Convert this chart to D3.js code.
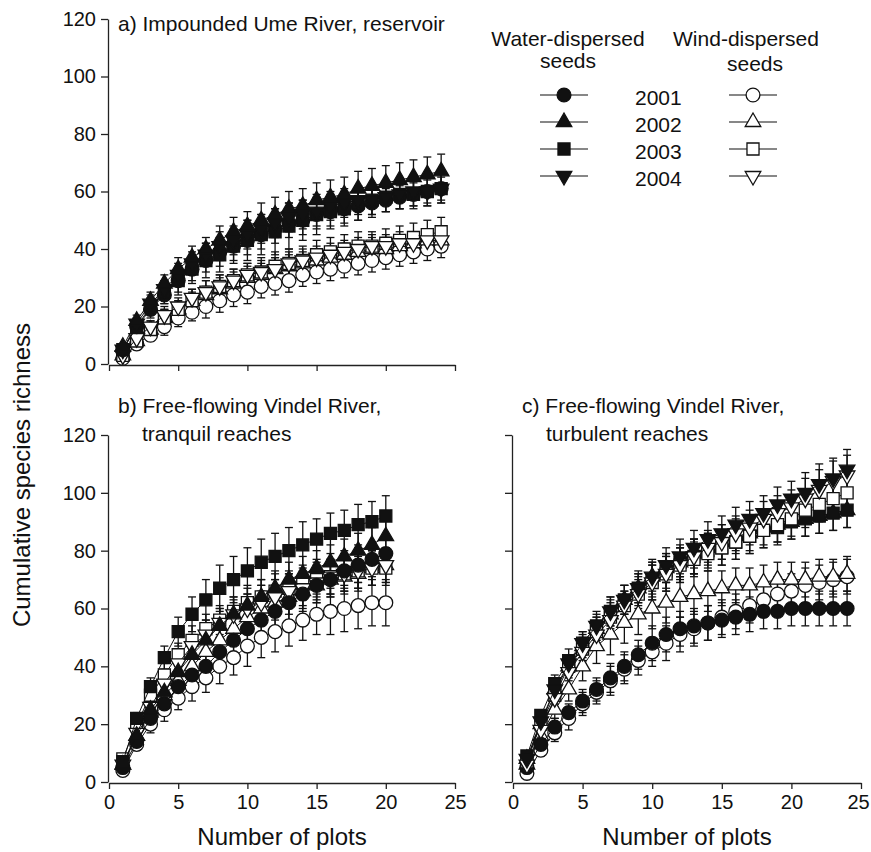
<!DOCTYPE html>
<html>
<head>
<script src="https://d3js.org/d3.v7.min.js"></script>
<style>
  body { margin: 0; background: #fff; font-family: "Liberation Sans", Arial, sans-serif; }
  .axis path, .axis line { stroke: #222; stroke-width: 1.3px; }
  .axis text { font-size: 20px; fill: #111; font-family: "Liberation Sans", Arial, sans-serif; }
  .series-line { fill: none; stroke: #111; stroke-width: 1px; }
  .err { stroke: #111; stroke-width: 1.3px; }
  .ptitle, .legend text { font-size: 21px; fill: #111; }
  .axis-title { font-size: 24px; fill: #111; }
</style>
</head>
<body>
<script>
// x values (number of plots) and ticks
var plots24 = [1,2,3,4,5,6,7,8,9,10,11,12,13,14,15,16,17,18,19,20,21,22,23,24];
var plots20 = [1,2,3,4,5,6,7,8,9,10,11,12,13,14,15,16,17,18,19,20];
var xTicks = [0,5,10,15,20,25];
var yTicks = [0,20,40,60,80,100,120];
var years = ["2001","2002","2003","2004"];

// a) Impounded Ume River, reservoir
var umeWater2001 = [5,13,19,24,29,33,36,39,41,43,45,47,49,50,52,53,54,55,56,57,58,59,60,61];
var umeWater2002 = [6,15,22,28,33,37,40,43,46,48,50,52,54,55,57,58,59,61,62,63,64,65,66,67];
var umeWater2003 = [5,13,20,25,29,33,36,38,41,43,45,46,48,50,52,53,54,56,57,58,59,59,60,61];
var umeWater2004 = [5,14,21,26,31,35,38,41,43,45,47,49,51,52,53,55,56,57,57,58,59,60,60,61];
var umeWind2001 = [2,7,10,13,16,18,20,22,24,25,27,28,29,31,32,33,34,35,36,37,38,39,40,41];
var umeWind2002 = [3,8,12,16,19,22,24,26,28,30,31,33,34,35,36,37,38,39,40,40,41,42,43,43];
var umeWind2003 = [3,8,12,16,19,22,25,27,29,31,32,34,35,36,38,39,40,41,41,42,43,44,45,46];
var umeWind2004 = [3,9,13,17,20,23,25,27,29,31,32,33,35,36,37,38,39,40,41,41,42,42,43,43];
var umeWater2001Sd = [1,2,3,3,4,4,4,5,5,5,5,5,5,5,5,5,5,5,5,4,4,4,4,4];
var umeWater2002Sd = [1,2,3,3,4,4,4,5,5,5,6,6,6,6,6,6,6,6,6,6,6,6,6,6];
var umeWater2003Sd = [1,2,3,4,5,5,6,6,6,7,7,8,8,7,7,6,6,6,5,5,5,5,5,5];
var umeWater2004Sd = [1,2,3,3,4,4,4,5,5,5,5,5,5,5,5,5,5,5,5,5,5,5,5,5];
var umeWind2001Sd = [1,2,2,3,3,3,4,4,4,4,4,4,4,4,4,4,4,4,4,4,4,4,4,4];
var umeWind2002Sd = [1,2,2,3,3,3,3,4,4,4,4,4,4,4,4,4,4,4,4,4,4,4,4,4];
var umeWind2003Sd = [1,2,3,3,3,4,4,4,4,4,5,5,5,5,5,5,5,5,5,5,5,5,5,5];
var umeWind2004Sd = [1,2,2,3,3,3,4,4,4,4,4,4,4,4,4,4,4,4,4,4,4,4,4,4];

// b) Free-flowing Vindel River, tranquil reaches
var tranqWater2001 = [5,14,22,27,33,37,40,45,49,53,56,59,62,65,68,70,73,75,77,79];
var tranqWater2002 = [6,16,25,31,38,44,49,54,58,61,64,67,70,72,74,76,78,80,82,85];
var tranqWater2003 = [7,22,33,43,52,58,63,67,70,73,76,78,80,82,84,86,87,89,90,92];
var tranqWind2001 = [4,13,20,25,29,33,36,40,43,47,50,52,54,56,58,59,60,61,62,62];
var tranqWind2002 = [6,16,24,30,35,40,45,49,53,57,60,62,64,66,68,70,71,72,74,75];
var tranqWind2003 = [8,20,30,37,44,49,53,56,59,62,64,66,67,69,70,71,72,73,74,74];
var tranqWind2004 = [6,17,26,34,41,47,51,55,58,60,62,64,66,67,69,71,72,73,74,75];
var tranqWater2001Sd = [1,2,3,3,4,4,5,5,5,6,6,6,6,6,6,6,6,6,6,6];
var tranqWater2002Sd = [1,2,3,4,4,5,5,6,6,6,6,6,6,6,6,6,6,6,6,6];
var tranqWater2003Sd = [1,2,3,4,5,6,7,8,8,8,8,8,8,8,7,7,7,7,7,7];
var tranqWind2001Sd = [1,2,3,4,4,5,5,6,6,7,7,7,7,7,7,8,8,8,8,8];
var tranqWind2002Sd = [1,2,3,3,4,4,5,5,5,5,6,6,6,6,6,6,6,6,6,6];
var tranqWind2003Sd = [1,2,3,4,4,5,5,5,5,6,6,6,6,6,6,6,6,6,6,6];
var tranqWind2004Sd = [1,2,3,3,4,4,5,5,5,5,6,6,6,6,6,6,6,6,6,6];

// c) Free-flowing Vindel River, turbulent reaches
var turbWater2001 = [5,13,19,24,28,32,36,40,44,48,51,53,54,55,56,57,58,59,59,60,60,60,60,60];
var turbWater2002 = [8,20,32,40,47,53,58,63,67,71,74,76,79,81,83,85,86,88,89,90,91,92,93,94];
var turbWater2003 = [9,23,34,42,48,54,59,63,67,70,73,76,78,80,81,83,85,87,88,90,91,92,93,94];
var turbWater2004 = [8,21,32,41,48,54,59,63,67,71,75,78,81,84,86,89,91,93,96,98,100,103,105,108];
var turbWind2001 = [3,11,17,22,27,31,35,39,42,45,48,51,53,55,57,59,61,63,65,66,68,69,70,71];
var turbWind2002 = [6,16,25,32,40,47,51,55,58,60,62,64,65,66,67,68,68,69,70,70,70,71,71,72];
var turbWind2003 = [7,20,30,40,46,52,57,61,65,69,72,75,77,79,81,83,85,87,89,91,94,96,98,100];
var turbWind2004 = [6,18,29,38,45,51,56,61,65,69,72,75,78,81,83,86,88,91,93,95,98,101,104,106];
var turbWater2001Sd = [1,2,3,3,4,4,5,5,5,6,6,6,6,6,6,6,6,6,6,6,6,6,6,6];
var turbWater2002Sd = [1,2,3,3,4,4,5,5,5,5,5,5,5,5,6,6,6,6,6,6,6,6,6,6];
var turbWater2003Sd = [1,2,3,4,4,5,5,5,6,6,6,6,6,6,6,6,6,6,6,6,6,6,6,6];
var turbWater2004Sd = [1,2,3,3,4,4,5,5,5,6,6,6,6,6,6,6,6,6,6,6,7,7,7,7];
var turbWind2001Sd = [1,2,3,4,4,4,5,5,5,5,6,6,6,6,6,6,6,6,6,6,6,6,6,6];
var turbWind2002Sd = [1,2,3,4,5,6,7,7,7,7,7,7,7,7,6,6,6,6,6,6,6,6,6,6];
var turbWind2003Sd = [1,2,3,3,4,5,5,5,6,6,6,6,6,6,6,6,6,6,6,6,6,6,6,6];
var turbWind2004Sd = [1,2,3,3,4,4,5,5,5,6,6,6,6,6,6,6,6,6,6,6,7,7,7,7];

var W = 871, H = 852;
var svg = d3.select("body").append("svg").attr("width", W).attr("height", H);

var shapes = {
  "2001": d3.symbolCircle,
  "2002": d3.symbolTriangle,
  "2003": d3.symbolSquare,
  "2004": d3.symbolTriangle
};
var sizes = { "2001": 150, "2002": 105, "2003": 145, "2004": 105 };

function marker(sel, year, filled) {
  sel.attr("d", d3.symbol().type(shapes[year]).size(sizes[year])())
    .attr("fill", filled ? "#111" : "#fff")
    .attr("stroke", "#111")
    .attr("stroke-width", 1.3);
}

function mk(year, water, xs, ys, sd) {
  return { year: year, water: water, pts: xs.map(function(x, i) { return { x: x, y: ys[i], sd: sd[i] }; }) };
}

var panels = [
  {
    title: ["a) Impounded Ume River, reservoir"], tx: 118, ty: 31,
    xr: [109, 455], yr: [364, 19], xLabels: false, yLabels: true, xTitle: false,
    series: [
      mk("2001", false, plots24, umeWind2001, umeWind2001Sd),
      mk("2002", false, plots24, umeWind2002, umeWind2002Sd),
      mk("2003", false, plots24, umeWind2003, umeWind2003Sd),
      mk("2004", false, plots24, umeWind2004, umeWind2004Sd),
      mk("2001", true, plots24, umeWater2001, umeWater2001Sd),
      mk("2003", true, plots24, umeWater2003, umeWater2003Sd),
      mk("2004", true, plots24, umeWater2004, umeWater2004Sd),
      mk("2002", true, plots24, umeWater2002, umeWater2002Sd)
    ]
  },
  {
    title: ["b) Free-flowing Vindel River,", "tranquil reaches"], tx: 118, ty: 413,
    xr: [109, 455], yr: [782, 435], xLabels: true, yLabels: true, xTitle: true,
    series: [
      mk("2001", false, plots20, tranqWind2001, tranqWind2001Sd),
      mk("2002", false, plots20, tranqWind2002, tranqWind2002Sd),
      mk("2003", false, plots20, tranqWind2003, tranqWind2003Sd),
      mk("2004", false, plots20, tranqWind2004, tranqWind2004Sd),
      mk("2001", true, plots20, tranqWater2001, tranqWater2001Sd),
      mk("2002", true, plots20, tranqWater2002, tranqWater2002Sd),
      mk("2003", true, plots20, tranqWater2003, tranqWater2003Sd)
    ]
  },
  {
    title: ["c) Free-flowing Vindel River,", "turbulent reaches"], tx: 522, ty: 413,
    xr: [513, 861], yr: [782, 435], xLabels: true, yLabels: false, xTitle: true,
    series: [
      mk("2001", false, plots24, turbWind2001, turbWind2001Sd),
      mk("2002", false, plots24, turbWind2002, turbWind2002Sd),
      mk("2001", true, plots24, turbWater2001, turbWater2001Sd),
      mk("2002", true, plots24, turbWater2002, turbWater2002Sd),
      mk("2003", true, plots24, turbWater2003, turbWater2003Sd),
      mk("2003", false, plots24, turbWind2003, turbWind2003Sd),
      mk("2004", false, plots24, turbWind2004, turbWind2004Sd),
      mk("2004", true, plots24, turbWater2004, turbWater2004Sd)
    ]
  }
];

panels.forEach(function(p) {
  var x = d3.scaleLinear().domain([0, 25]).range(p.xr);
  var y = d3.scaleLinear().domain([0, 120]).range(p.yr);
  var g = svg.append("g");

  // axes
  var xa = d3.axisBottom(x).tickValues(xTicks).tickSize(6).tickSizeOuter(0).tickPadding(6);
  if (!p.xLabels) xa.tickFormat("");
  var xg = g.append("g").attr("class", "axis").attr("transform", "translate(0," + (p.yr[0] + 1) + ")").call(xa);
  // keep the last label inside the page edge
  if (p.xr[1] > 850) xg.selectAll(".tick text").filter(function(d) { return d === 25; }).attr("dx", -3);
  var ya = d3.axisLeft(y).tickValues(yTicks).tickSize(7).tickSizeOuter(0).tickPadding(5);
  if (!p.yLabels) ya.tickFormat("");
  g.append("g").attr("class", "axis").attr("transform", "translate(" + (p.xr[0] - 1) + ",0)").call(ya);

  // error bars
  p.series.forEach(function(s) {
    var eb = g.append("g");
    eb.selectAll("line.v").data(s.pts).enter().append("line").attr("class", "err")
      .attr("x1", function(d) { return x(d.x); }).attr("x2", function(d) { return x(d.x); })
      .attr("y1", function(d) { return y(d.y - d.sd); }).attr("y2", function(d) { return y(d.y + d.sd); });
    [1, -1].forEach(function(sgn) {
      eb.selectAll("line.c" + sgn).data(s.pts).enter().append("line").attr("class", "err")
        .attr("x1", function(d) { return x(d.x) - 4; }).attr("x2", function(d) { return x(d.x) + 4; })
        .attr("y1", function(d) { return y(d.y + sgn * d.sd); }).attr("y2", function(d) { return y(d.y + sgn * d.sd); });
    });
  });

  // lines and markers
  var line = d3.line().x(function(d) { return x(d.x); }).y(function(d) { return y(d.y); });
  p.series.forEach(function(s) {
    g.append("path").datum(s.pts).attr("class", "series-line").attr("d", line);
    g.selectAll(null).data(s.pts).enter().append("path")
      .call(marker, s.year, s.water)
      .attr("transform", function(d) {
        var t = "translate(" + x(d.x) + "," + y(d.y) + ")";
        return s.year === "2004" ? t + " rotate(180)" : t;
      });
  });

  // titles
  var t = g.append("text").attr("class", "ptitle").attr("x", p.tx).attr("y", p.ty);
  p.title.forEach(function(line, i) {
    t.append("tspan").attr("x", i === 0 ? p.tx : p.tx + 24).attr("dy", i === 0 ? 0 : 28).text(line);
  });

  if (p.xTitle) {
    g.append("text").attr("class", "axis-title").attr("text-anchor", "middle")
      .attr("x", (x(0) + x(25)) / 2).attr("y", 845).text("Number of plots");
  }
});

// y axis title
svg.append("text").attr("class", "axis-title").attr("text-anchor", "middle")
  .attr("transform", "translate(30,475) rotate(-90)").text("Cumulative species richness");

// legend
var lg = svg.append("g").attr("class", "legend");
lg.append("text").attr("text-anchor", "middle").attr("x", 568).attr("y", 46).text("Water-dispersed");
lg.append("text").attr("text-anchor", "middle").attr("x", 568).attr("y", 68).text("seeds");
lg.append("text").attr("text-anchor", "middle").attr("x", 746).attr("y", 46).text("Wind-dispersed");
lg.append("text").attr("text-anchor", "middle").attr("x", 755).attr("y", 71).text("seeds");
var rowY = d3.scalePoint().domain(years).range([95, 176]);
years.forEach(function(yr) {
  var yy = rowY(yr);
  lg.append("text").attr("x", 635).attr("y", yy + 10).text(yr);
  [[564, true], [753, false]].forEach(function(c) {
    lg.append("line").attr("x1", c[0] - 24).attr("x2", c[0] + 24).attr("y1", yy).attr("y2", yy)
      .attr("stroke", "#111").attr("stroke-width", 1.2);
    lg.append("path").call(marker, yr, c[1])
      .attr("transform", "translate(" + c[0] + "," + yy + ")" + (yr === "2004" ? " rotate(180)" : ""));
  });
});
</script>
</body>
</html>
